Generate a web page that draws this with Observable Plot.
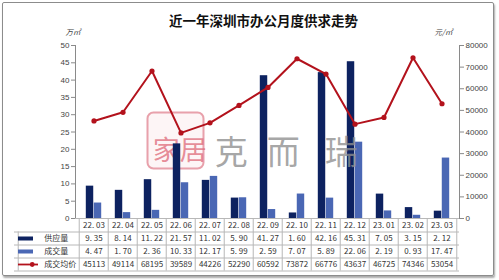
<!DOCTYPE html>
<html><head><meta charset="utf-8">
<script src="https://cdn.jsdelivr.net/npm/d3@7"></script>
<script src="https://cdn.jsdelivr.net/npm/@observablehq/plot@0.6"></script>
<style>
html,body{margin:0;padding:0;background:#fff;}
#wrap{position:relative;width:499px;height:280px;overflow:hidden;}
#border{position:absolute;left:2px;top:2px;width:490px;height:272px;border:1px solid #8c8c8c;border-radius:2px;box-shadow:1px 2px 2px #aaa;pointer-events:none;}
#wrap svg{position:absolute;left:0;top:0;}
</style></head><body>
<div id="wrap"><div id="border"></div></div>
<script>
const title = "近一年深圳市办公月度供求走势";
const leftUnit = "万㎡";
const rightUnit = "元/㎡";
const months = ["22.03","22.04","22.05","22.06","22.07","22.08","22.09","22.10","22.11","22.12","23.01","23.02","23.03"];
const seriesNames = ["供应量","成交量","成交均价"];
const supply = [9.35,8.14,11.22,21.57,11.02,5.90,41.27,1.60,42.16,45.31,7.05,3.15,2.12];
const deals = [4.47,1.70,2.36,10.33,12.17,5.99,2.59,7.07,5.89,22.06,2.19,0.93,17.47];
const prices = [45113,49114,68195,39589,44226,52290,60592,73872,66776,43637,46725,74346,53054];
const leftTicks = [0,5,10,15,20,25,30,35,40,45,50];
const rightTicks = [0,10000,20000,30000,40000,50000,60000,70000,80000];
const watermarkSeal = ["家","居"];
const watermarkText = ["克","而","瑞"];

const rows = months.map((m,i)=>({month:m, supply:supply[i], deal:deals[i], price:prices[i]}));

const W=499,H=280,mL=75,mR=40,mT=45,mB=62;
const bw=(W-mL-mR)/months.length;
const fh=H-mT-mB;
const leftMax=50, rightMax=80000;
const toLeft=v=>v*leftMax/rightMax;
const fmtDot=s=>s.replace(".",". ");
const cjk="'Noto Sans CJK SC','Noto Sans',sans-serif";
const C_DARK="#0d2260", C_LIGHT="#4a67b4", C_RED="#b3121c", C_GRID="#b8b8b8", C_AX="#8a8a8a";
const rowDy=[6.75,20,33,46];
const lines=[13.5,26.5,39.5,52.5];
const first=()=>months[0];

const marks=[
  Plot.frame({insetLeft:72,insetRight:W-mR-mL-128,insetTop:67,insetBottom:50,rx:6,stroke:"#e4909c",strokeWidth:2,fill:"#fbecee",fillOpacity:0.5,strokeOpacity:0.85})
];
watermarkSeal.forEach((c,i)=>marks.push(Plot.text([c],{x:first,frameAnchor:"top",dy:95,dx:[162,189][i]-(mL+bw/2),fontSize:27,fill:"#e0707e",fillOpacity:0.8,fontFamily:cjk})));

marks.push(
  Plot.barY(rows,{x:"month",y:"supply",fill:C_DARK,insetLeft:6.8,insetRight:bw/2}),
  Plot.barY(rows,{x:"month",y:"deal",fill:C_LIGHT,insetLeft:bw/2,insetRight:6.8})
);
watermarkText.forEach((c,i)=>marks.push(Plot.text([c],{x:first,frameAnchor:"top",dy:95,dx:[227,279,337][i]-(mL+bw/2),fontSize:33,fill:"#8f8f8f",fillOpacity:0.8,fontFamily:cjk})));

marks.push(
  Plot.line(rows,{x:"month",y:d=>toLeft(d.price),stroke:C_RED,strokeWidth:2}),
  Plot.dot(rows,{x:"month",y:d=>toLeft(d.price),r:2.6,fill:C_RED}),
  Plot.frame({anchor:"left",stroke:C_AX}),
  Plot.frame({anchor:"right",stroke:C_AX}),
  Plot.axisY({anchor:"left",ticks:leftTicks,tickSize:4,tickPadding:2,stroke:C_AX,fill:"#444",fontSize:8,label:null}),
  Plot.axisY({anchor:"right",ticks:rightTicks.map(toLeft),tickFormat:d=>String(Math.round(d*rightMax/leftMax)),tickSize:4,tickPadding:2,stroke:C_AX,fill:"#444",fontSize:8,label:null}),
  Plot.text([title],{frameAnchor:"top",dy:-29,dx:-4,fontSize:13.5,fontWeight:"bold",fill:"#111",fontFamily:cjk}),
  Plot.text([leftUnit],{frameAnchor:"top-left",dy:-16,dx:-10,fontSize:7.5,fill:"#444",fontStyle:"italic",fontFamily:cjk}),
  Plot.text([rightUnit],{frameAnchor:"top-right",dy:-16,dx:-7,fontSize:7.5,fill:"#444",fontStyle:"italic",fontFamily:cjk}),
  Plot.ruleY([0],{stroke:C_GRID}),
  ...lines.map(dy=>Plot.ruleY([0],{dy,insetLeft:-61,stroke:C_GRID})),
  Plot.ruleX(months,{x:d=>d,dx:-bw/2,insetTop:fh,insetBottom:-52.5,stroke:C_GRID}),
  Plot.ruleX([months[months.length-1]],{x:d=>d,dx:bw/2,insetTop:fh,insetBottom:-52.5,stroke:C_GRID}),
  Plot.ruleX([months[0]],{x:d=>d,dx:-bw/2-61,insetTop:fh+13.5,insetBottom:-52.5,stroke:C_GRID}),
  Plot.text(rows,{x:"month",text:d=>fmtDot(d.month),frameAnchor:"bottom",dy:rowDy[0],lineAnchor:"middle",fontSize:8,fill:"#333",fontFamily:cjk}),
  Plot.text(rows,{x:"month",text:d=>fmtDot(d.supply.toFixed(2)),frameAnchor:"bottom",dy:rowDy[1],lineAnchor:"middle",fontSize:8,fill:"#333",fontFamily:cjk}),
  Plot.text(rows,{x:"month",text:d=>fmtDot(d.deal.toFixed(2)),frameAnchor:"bottom",dy:rowDy[2],lineAnchor:"middle",fontSize:8,fill:"#333",fontFamily:cjk}),
  Plot.text(rows,{x:"month",text:d=>String(d.price),frameAnchor:"bottom",dy:rowDy[3],lineAnchor:"middle",fontSize:8,fill:"#333",fontFamily:cjk}),
  ...seriesNames.map((n,i)=>Plot.text([n],{x:first,frameAnchor:"bottom",dy:rowDy[i+1],dx:40-(mL+bw/2),textAnchor:"start",lineAnchor:"middle",fontSize:8,fill:"#333",fontFamily:cjk})),
  Plot.ruleY([0],{dy:rowDy[1],insetLeft:-57,insetRight:(W-mR)-33,stroke:C_DARK,strokeWidth:4}),
  Plot.ruleY([0],{dy:rowDy[2],insetLeft:-57,insetRight:(W-mR)-33,stroke:C_LIGHT,strokeWidth:4}),
  Plot.ruleY([0],{dy:rowDy[3],insetLeft:-57,insetRight:(W-mR)-38,stroke:C_RED,strokeWidth:1.8}),
  Plot.dot([0],{x:first,y:()=>0,dy:rowDy[3],dx:28-(mL+bw/2),r:2.4,fill:C_RED})
);

const chart=Plot.plot({
  width:W,height:H,marginLeft:mL,marginRight:mR,marginTop:mT,marginBottom:mB,
  style:{fontFamily:"'Liberation Sans',Arial,sans-serif",fontSize:"8px",color:"#333",background:"transparent",overflow:"visible"},
  x:{domain:months,padding:0,axis:null},
  y:{domain:[0,leftMax],axis:null},
  marks
});
document.getElementById("wrap").prepend(chart);
</script>
</body></html>
